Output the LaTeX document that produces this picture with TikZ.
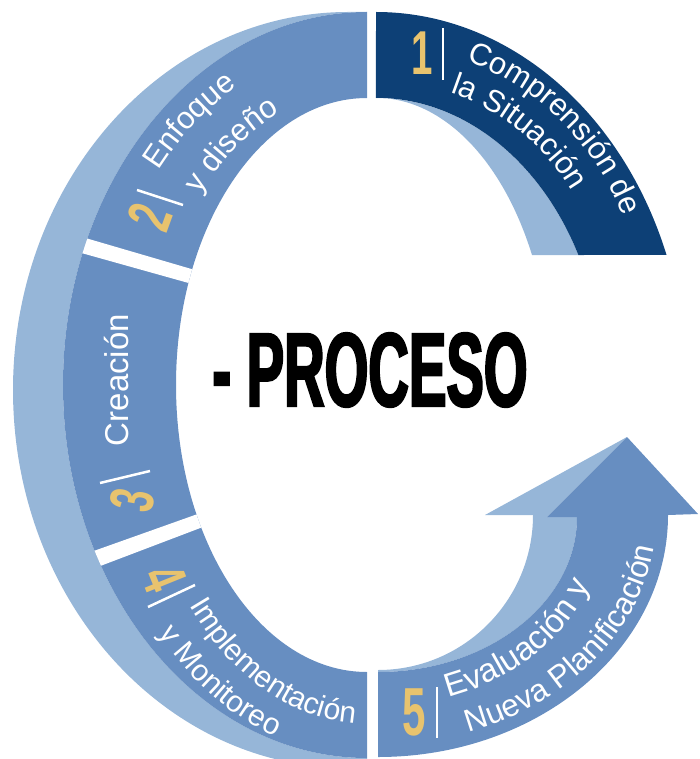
\documentclass[tikz,border=0pt]{standalone}
\usepackage{fontspec}
\setmainfont{Liberation Sans}
\newfontfamily\numfont[FakeStretch=0.62]{Liberation Sans}
\newfontfamily\titlefont[FakeStretch=0.535,FakeBold=2]{Liberation Sans}
\usetikzlibrary{decorations.text}

\definecolor{darkblue}{HTML}{0D4076}
\definecolor{midblue}{HTML}{678EC1}
\definecolor{lightblue}{HTML}{96B6D8}
\definecolor{gold}{HTML}{E8C36E}

\newcommand\lblfont[1]{\fontsize{#1}{#1}\selectfont\color{white}}
\newcommand\midband{(367,12) arc[start angle=-90,end angle=-270,x radius=304,y radius=373] -- (367,672) arc[start angle=90,end angle=270,x radius=191,y radius=287] -- cycle}

\begin{document}
\begin{tikzpicture}[x=1pt,y=-1pt,
    num/.style={text=gold,font=\numfont\bfseries\fontsize{62}{62}\selectfont,inner sep=0pt},
    lbl/.style={text=white,font=\lblfont{33},inner sep=0pt},
    bar/.style={white,line width=2.5pt},
    curved/.style 2 args={decorate,decoration={text along path,text align=left,text={|\lblfont{#1}|#2}}}]
    \useasboundingbox (0,0) rectangle (699,759);

    % outer side strip and band of steps 2-4
    \fill[lightblue] (348,12) arc[start angle=-90,end angle=-270,x radius=335,y radius=378] -- (367,768) -- (367,758)
        arc[start angle=90,end angle=270,x radius=304,y radius=373] -- cycle;
    \fill[midblue] \midband;
    \begin{scope}
        \clip \midband;
        \fill[white] (40,224.7) -- (230,280.3) -- (230,294.6) -- (40,241.4) -- cycle;
        \fill[white] (40,570.1) -- (230,502.5) -- (230,516.7) -- (40,588.9) -- cycle;
    \end{scope}

    % step 1
    \fill[lightblue] (376,98) arc[start angle=-90,end angle=-26.9,x radius=227,y radius=287] -- (532,255)
        arc[start angle=-26.9,end angle=-90,x radius=175,y radius=287] -- cycle;
    \fill[darkblue] (376,12) arc[start angle=-90,end angle=-20.4,x radius=310,y radius=373] -- (578.4,255)
        arc[start angle=-26.9,end angle=-90,x radius=227,y radius=287] -- cycle;

    % step 5 (arrow)
    \fill[lightblue] (627,437) -- (485,515) -- (533,515) arc[start angle=0,end angle=90,radius=155] -- (378,672)
        arc[start angle=90,end angle=0,x radius=199,y radius=155] -- (547,517) -- cycle;
    \fill[midblue] (627,437) -- (547,517) -- (577,517) arc[start angle=0,end angle=90,x radius=199,y radius=155] -- (378,757)
        arc[start angle=90,end angle=0,x radius=290,y radius=242] -- (698,514) -- cycle;

    % numbers and bars
    \node[num] (n1) at (422,53) {1};
    \node[num,rotate=70] (n2) at (150,217) {2};
    \node[num,rotate=80] (n3) at (132,500) {3};
    \node[num,rotate=-68] (n4) at (164,578) {4};
    \node[num,font=\numfont\bfseries\fontsize{68}{68}\selectfont] (n5) at (414,712) {5};
    \draw[bar] (443,28) -- (443,80);
    \draw[bar] (137,190) -- (183,205);
    \draw[bar] (100,483) -- (150,471);
    \draw[bar] (148,607) -- (195,585);
    \draw[bar] (437,687) -- (437,738);

    % labels
    \path[curved={31}{Comprensión de}] (376,308) ++(-70:263) arc[start angle=-70,end angle=0,radius=263];
    \path[curved={31}{la Situación}] (376,308) ++(-71:228) arc[start angle=-71,end angle=0,radius=228];
    \path[curved={31}{Enfoque}] (367,385) ++(-141:268 and 341) arc[start angle=-141,end angle=-80,x radius=268,y radius=341];
    \path[curved={31}{y diseño}] (367,385) ++(-140:218 and 297) arc[start angle=-140,end angle=-70,x radius=218,y radius=297];
    \node[lbl,rotate=90] (creacion) at (117,380) {Creación};
    \path[curved={30}{Implementación}] (367,385) ++(139.5:234 and 339) arc[start angle=139.5,end angle=40,x radius=234,y radius=339];
    \path[curved={30}{y Monitoreo}] (367,385) ++(138:280 and 372) arc[start angle=138,end angle=50,x radius=280,y radius=372];
    \path[curved={33}{Evaluación y}] (378,515) ++(72:228 and 192) arc[start angle=72,end angle=-10,x radius=228,y radius=192];
    \path[curved={31.5}{Nueva Planificación}] (378,515) ++(71:279 and 230) arc[start angle=71,end angle=-20,x radius=279,y radius=230];

    \node[font=\titlefont\bfseries\fontsize{105}{105}\selectfont,inner sep=0pt] (proceso) at (370,370) {- PROCESO};
\end{tikzpicture}
\end{document}
